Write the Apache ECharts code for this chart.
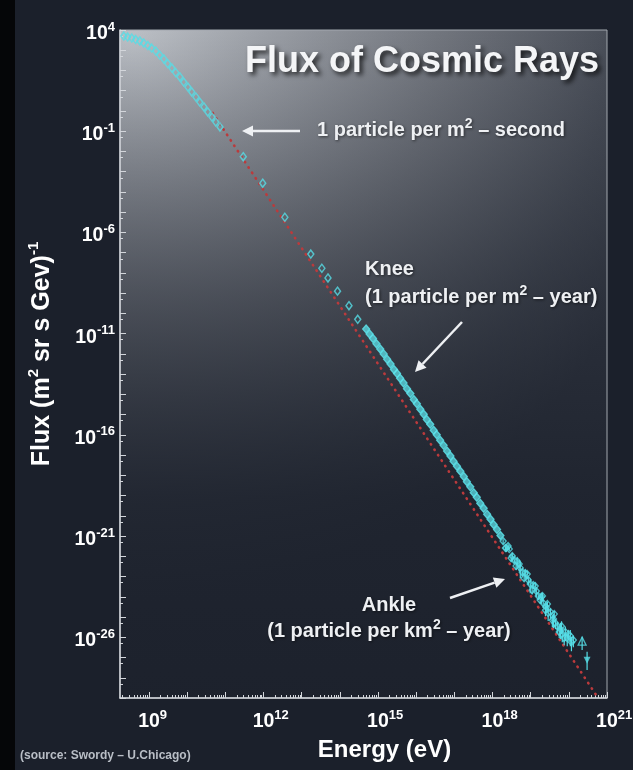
<!DOCTYPE html>
<html>
<head>
<meta charset="utf-8">
<title>Flux of Cosmic Rays</title>
<script src="https://cdn.jsdelivr.net/npm/echarts@6/dist/echarts.min.js"></script>
<style>
  * { margin: 0; padding: 0; }
  body { background: #1b202b; }
  #chart { width: 633px; height: 770px; }
</style>
</head>
<body>
<div id="chart"></div>
<script>
// all values are log10: energy in eV, flux in (m2 sr s GeV)^-1
var lowE = [8.34, 8.44, 8.55, 8.65, 8.76, 8.86, 8.97, 9.07, 9.18, 9.28, 9.39, 9.49, 9.60, 9.70, 9.81, 9.91,
            10.02, 10.12, 10.23, 10.33, 10.44, 10.54, 10.65, 10.75, 10.86,
            11.47, 11.98, 12.56, 13.24, 13.53, 13.69, 13.94, 14.24, 14.47];
var lowF = [3.70, 3.65, 3.60, 3.53, 3.46, 3.36, 3.23, 3.11, 2.96, 2.76, 2.57, 2.34, 2.12, 1.90, 1.68, 1.43,
            1.18, 0.94, 0.69, 0.44, 0.20, -0.05, -0.30, -0.55, -0.79,
            -2.26, -3.57, -5.25, -7.07, -7.77, -8.25, -8.90, -9.62, -10.29];

var kneeE = [14.69, 14.78, 14.87, 14.96, 15.06, 15.15, 15.24, 15.33, 15.42, 15.50, 15.58, 15.67, 15.76, 15.85,
             15.94, 16.02, 16.11, 16.20, 16.28, 16.37, 16.46, 16.54, 16.63, 16.72, 16.81, 16.90, 16.98, 17.07,
             17.16, 17.25, 17.33, 17.42, 17.51, 17.59, 17.68, 17.77, 17.86, 17.95, 18.03, 18.12, 18.21];
var kneeF = [-10.77, -11.02, -11.24, -11.50, -11.76, -12.00, -12.27, -12.50, -12.77, -12.97, -13.20, -13.44,
             -13.72, -13.96, -14.25, -14.46, -14.74, -14.98, -15.24, -15.48, -15.77, -15.99, -16.27, -16.52,
             -16.80, -17.05, -17.30, -17.55, -17.80, -18.06, -18.32, -18.57, -18.86, -19.08, -19.38, -19.63,
             -19.92, -20.17, -20.43, -20.68, -20.97];

var tailE = [18.28, 18.36, 18.44, 18.52, 18.57, 18.65, 18.73, 18.78, 18.86, 18.94, 18.99, 19.07, 19.15, 19.20,
             19.28, 19.33, 19.41, 19.46, 19.52, 19.60, 19.65, 19.70, 19.78, 19.83, 19.91, 19.96, 20.04, 20.12,
             18.34, 18.41, 18.49, 18.62, 18.70, 18.83, 18.91, 19.04, 19.12, 19.25, 19.31, 19.39, 19.44, 19.57,
             19.62, 19.75, 19.81, 19.88, 19.99, 20.07];
var tailF = [-21.25, -21.59, -21.64, -21.99, -22.19, -22.24, -22.58, -22.78, -22.83, -23.17, -23.37, -23.42,
             -23.72, -23.96, -24.01, -24.31, -24.51, -24.80, -24.75, -25.10, -25.30, -25.45, -25.59, -25.84,
             -25.74, -26.04, -25.94, -26.14,
             -21.59, -21.49, -22.09, -22.48, -22.38, -23.08, -22.88, -23.67, -23.47, -24.16, -23.96, -24.66,
             -24.36, -25.15, -24.85, -25.74, -25.45, -26.04, -25.84, -26.24];
var tailErr = [0.15, 0.2, 0.1, 0.25, 0.15, 0.3, 0.5, 0.2, 0.3, 0.25, 0.45, 0.2, 0.3, 0.2,
               0.35, 0.25, 0.3, 0.4, 0.3, 0.45, 0.3, 0.35, 0.5, 0.4, 0.45, 0.4, 0.5, 0.35,
               0.1, 0.2, 0.15, 0.2, 0.35, 0.15, 0.25, 0.2, 0.3, 0.15, 0.25, 0.3, 0.2, 0.35,
               0.25, 0.3, 0.4, 0.35, 0.3, 0.45];

var upE = [20.35], upF = [-26.19], upLo = [-26.63], upHi = [-25.97];
var dnE = [20.48], dnF = [-27.13], dnLo = [-27.62], dnHi = [-26.72];

// dotted power-law guide
var fitE = [10.67, 20.72];
var fitF = [-0.10, -28.86];

var xLabelExp = [9, 12, 15, 18, 21];
var yLabelExp = [4, -1, -6, -11, -16, -21, -26];

function p10(v) { return Math.pow(10, v); }
function pairs(e, f) { return e.map(function (v, i) { return [p10(v), p10(f[i])]; }); }

var cyan = '#56dde6';
var white = '#eef0f3';
var font = 'Liberation Sans';
var xMin = p10(8.24), xMax = p10(21.002);

var xMajor = [], xMinor = [], yMajor = [], yMinor = [];
for (var n = 8; n <= 21; n++) {
  if (n >= 9) xMajor.push(p10(n));
  for (var k = 2; k <= 9; k++) {
    var v = k * p10(n);
    if (v > xMin && v < 1e21) xMinor.push(v);
  }
}
for (var m = -29; m <= 4; m++) {
  yMajor.push(p10(m));
  if (m < 4) yMinor.push(5 * p10(m));
}

function expLabel(v) {
  return '{b|10}{s|' + Math.round(Math.log10(v)) + '}';
}
// x labels: hidden copy of the exponent in front keeps the "10" centred on the tick
function expLabelX(v) {
  var e = Math.round(Math.log10(v));
  return '{h|' + e + '}{b|10}{s|' + e + '}';
}
var supStyle = { color: '#fff', fontSize: 13, fontWeight: 'bold', fontFamily: font, lineHeight: 13, verticalAlign: 'top' };
var labelRich = {
  b: { color: '#fff', fontSize: 19.5, fontWeight: 'bold', fontFamily: font, lineHeight: 26 },
  s: supStyle,
  h: Object.assign({}, supStyle, { color: 'rgba(0,0,0,0)' })
};

function arrow(x1, y1, x2, y2) {
  var a = Math.atan2(y2 - y1, x2 - x1), L = 11, W = 5.5;
  var bx = x2 - L * Math.cos(a), by = y2 - L * Math.sin(a);
  return {
    type: 'group', z: 50, children: [
      { type: 'line', shape: { x1: x1, y1: y1, x2: bx, y2: by }, style: { stroke: white, lineWidth: 2.5 } },
      { type: 'polygon', shape: { points: [[x2, y2], [bx + W * Math.sin(a), by - W * Math.cos(a)], [bx - W * Math.sin(a), by + W * Math.cos(a)]] },
        style: { fill: white } }
    ]
  };
}
function note(text, x, y, align) {
  return {
    type: 'text', z: 50,
    style: {
      text: text, x: x, y: y, align: align || 'left', verticalAlign: 'middle',
      fill: white, font: 'bold 20px "' + font + '"', lineHeight: 25,
      textShadowColor: 'rgba(0,0,0,0.55)', textShadowBlur: 3, textShadowOffsetX: 1, textShadowOffsetY: 1,
      rich: { s: { fill: white, fontSize: 14, fontWeight: 'bold', fontFamily: font, lineHeight: 14, verticalAlign: 'top' } }
    }
  };
}

var myChart = echarts.init(document.getElementById('chart'));

var option = {
  backgroundColor: '#1b202b',
  animation: false,
  grid: {
    left: 120, right: 26, top: 30, bottom: 72,
    show: true, borderColor: '#a3a8af', borderWidth: 1, backgroundColor: 'transparent',
    outerBoundsMode: 'none'
  },
  xAxis: [
    {
      type: 'log', min: xMin, max: xMax, position: 'bottom',
      name: 'Energy (eV)', nameLocation: 'middle', nameGap: 40,
      nameTextStyle: { color: '#fff', fontSize: 24, fontWeight: 'bold', fontFamily: font, padding: [0, 0, 0, 42] },
      axisLine: { lineStyle: { color: '#d3d6db', width: 1.5 } },
      axisTick: { inside: true, length: 6, customValues: xMajor, lineStyle: { color: '#d3d6db' } },
      axisLabel: { customValues: xLabelExp.map(p10), formatter: expLabelX, margin: 11, rich: labelRich },
      splitLine: { show: false }
    },
    {
      type: 'log', min: xMin, max: xMax, position: 'bottom',
      axisLine: { show: false },
      axisTick: { inside: true, length: 3, customValues: xMinor, lineStyle: { color: '#d3d6db' } },
      axisLabel: { show: false },
      splitLine: { show: false }
    }
  ],
  yAxis: [
    {
      type: 'log', min: 1e-29, max: 1e4, position: 'left',
      name: 'Flux (m{s|2} sr s Gev){s|-1}', nameLocation: 'middle', nameGap: 62, nameRotate: 90,
      nameTextStyle: {
        color: '#fff', fontSize: 25, fontWeight: 'bold', fontFamily: font, lineHeight: 32, padding: [0, 0, 0, 20],
        rich: { s: { color: '#fff', fontSize: 15, fontWeight: 'bold', fontFamily: font, lineHeight: 15, verticalAlign: 'top' } }
      },
      axisLine: { lineStyle: { color: '#d3d6db', width: 1.5 } },
      axisTick: { inside: true, length: 6, customValues: yMajor, lineStyle: { color: '#d3d6db' } },
      axisLabel: { customValues: yLabelExp.map(p10), formatter: expLabel, margin: 5, padding: [7, 0, 0, 0], rich: labelRich },
      splitLine: { show: false }
    },
    {
      type: 'log', min: 1e-29, max: 1e4, position: 'left',
      axisLine: { show: false },
      axisTick: { inside: true, length: 3, customValues: yMinor, lineStyle: { color: '#d3d6db' } },
      axisLabel: { show: false },
      splitLine: { show: false }
    }
  ],
  graphic: [
    { type: 'rect', z: -10, silent: true, shape: { x: 0, y: 0, width: 15, height: 770 }, style: { fill: '#050608' } },
    {
      type: 'rect', z: -9, silent: true, shape: { x: 120, y: 30, width: 487, height: 668 },
      style: { fill: new echarts.graphic.RadialGradient(0.02, 0.01, 1.15, [
        { offset: 0, color: '#bcc0c6' },
        { offset: 0.25, color: '#9a9ea5' },
        { offset: 0.55, color: '#72767e' },
        { offset: 0.85, color: '#4a4f59' },
        { offset: 1, color: '#3a3f4a' }
      ]) }
    },
    {
      type: 'rect', z: -8, silent: true, shape: { x: 120, y: 30, width: 487, height: 668 },
      style: { fill: new echarts.graphic.LinearGradient(0, 0, 0, 1, [
        { offset: 0, color: 'rgba(27,32,43,0)' },
        { offset: 0.4, color: 'rgba(27,32,43,0.5)' },
        { offset: 0.7, color: 'rgba(27,32,43,0.85)' },
        { offset: 1, color: 'rgba(27,32,43,0.95)' }
      ]) }
    },
    {
      type: 'text', z: 50,
      style: {
        text: 'Flux of Cosmic Rays', x: 245, y: 62, align: 'left', verticalAlign: 'middle',
        fill: '#f4f5f7', font: 'bold 36px "' + font + '"',
        textShadowColor: 'rgba(0,0,0,0.75)', textShadowBlur: 5, textShadowOffsetX: 3, textShadowOffsetY: 3
      }
    },
    arrow(300, 131, 242, 131),
    note('1 particle per m{s|2} – second', 317, 130),
    note('Knee', 365, 269),
    note('(1 particle per m{s|2} – year)', 365, 297),
    arrow(462, 322, 415, 372),
    note('Ankle', 389, 605, 'center'),
    note('(1 particle per km{s|2} – year)', 389, 631, 'center'),
    arrow(450, 598, 505, 579),
    {
      type: 'text', z: 50,
      style: { text: '(source: Swordy – U.Chicago)', x: 20, y: 756, verticalAlign: 'middle',
               fill: '#b9bec6', font: 'bold 12px "' + font + '"' }
    }
  ],
  series: [
    {
      name: 'fit', type: 'line', z: 1, symbol: 'none',
      data: pairs(fitE, fitF),
      lineStyle: { color: '#bb3a3c', width: 2.6, type: [0.5, 6], cap: 'round' }
    },
    {
      name: 'flux', type: 'scatter', z: 3, symbol: 'diamond', symbolSize: [6, 8],
      data: pairs(lowE, lowF),
      itemStyle: { color: 'rgba(0,0,0,0)', borderColor: cyan, borderWidth: 1.5 }
    },
    {
      name: 'knee', type: 'scatter', z: 3, symbol: 'diamond', symbolSize: [7, 8],
      data: pairs(kneeE, kneeF),
      itemStyle: { color: 'rgba(94,230,238,0.9)', borderColor: '#5ee6ee', borderWidth: 1.3 }
    },
    {
      name: 'errors', type: 'custom', z: 3,
      data: tailE.map(function (e, i) { return [p10(e), p10(tailF[i]), p10(tailF[i] - tailErr[i]), p10(tailF[i] + tailErr[i] * 0.6)]; })
        .concat([[p10(upE[0]), p10(upF[0]), p10(upLo[0]), p10(upHi[0])], [p10(dnE[0]), p10(dnF[0]), p10(dnLo[0]), p10(dnHi[0])]]),
      encode: { x: 0, y: [1, 2, 3] },
      renderItem: function (params, api) {
        var lo = api.coord([api.value(0), api.value(2)]);
        var hi = api.coord([api.value(0), api.value(3)]);
        return { type: 'line', shape: { x1: lo[0], y1: lo[1], x2: hi[0], y2: hi[1] }, style: { stroke: cyan, lineWidth: 1.2 } };
      }
    },
    {
      name: 'tail', type: 'scatter', z: 3, symbol: 'diamond', symbolSize: [6, 7],
      data: pairs(tailE, tailF),
      itemStyle: { color: 'rgba(0,0,0,0)', borderColor: cyan, borderWidth: 1.4 }
    },
    {
      name: 'up', type: 'scatter', z: 3, symbol: 'triangle', symbolSize: 8,
      data: pairs(upE, upF),
      itemStyle: { color: 'rgba(0,0,0,0)', borderColor: cyan, borderWidth: 1.3 }
    },
    {
      name: 'down', type: 'scatter', z: 3, symbol: 'triangle', symbolRotate: 180, symbolSize: 7,
      data: pairs(dnE, dnF),
      itemStyle: { color: cyan }
    }
  ]
};

myChart.setOption(option);
</script>
</body>
</html>
